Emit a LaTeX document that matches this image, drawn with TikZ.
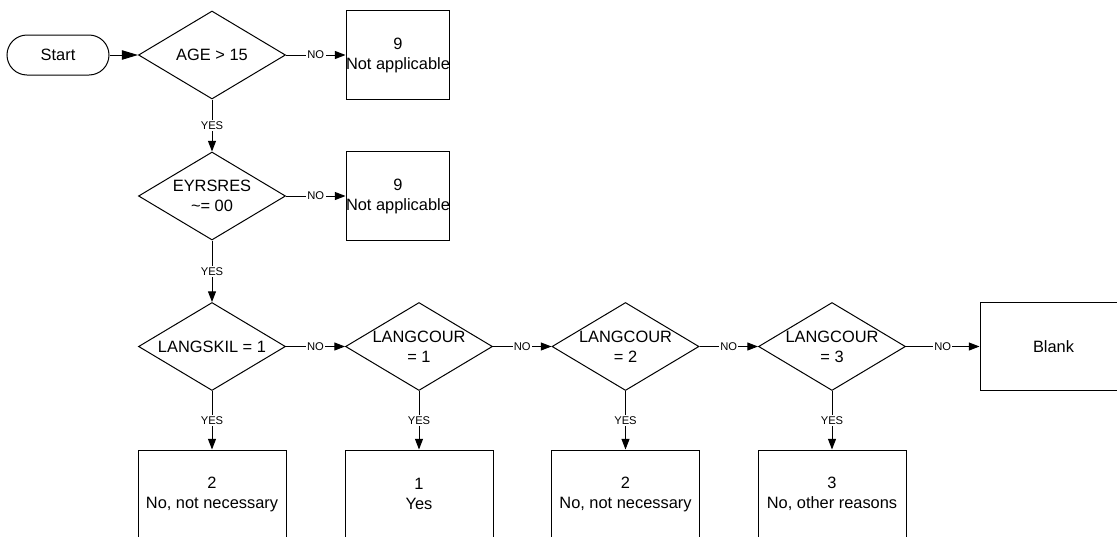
\documentclass[tikz,border=0pt]{standalone}
\usepackage{fontspec}
\setmainfont{Liberation Sans}
\usetikzlibrary{shapes.geometric,arrows.meta}

\begin{document}
\begin{tikzpicture}[
    x=0.75pt, y=-0.75pt,
    decision/.style={diamond, draw=black, line width=0.75pt, aspect=1.69,
        minimum width=110.25pt, minimum height=66pt, inner sep=0pt,
        align=center, font=\fontsize{12.3}{15}\selectfont},
    outcome/.style={rectangle, draw=black, line width=0.75pt,
        minimum width=111pt, minimum height=66pt, inner sep=0pt,
        align=center, font=\fontsize{12.3}{15}\selectfont},
    terminal/.style={rectangle, rounded corners=15pt, draw=black, line width=0.75pt,
        minimum width=76.5pt, minimum height=30pt, inner sep=0pt,
        font=\fontsize{12.3}{15}\selectfont},
    flow/.style={line width=0.75pt, -{Triangle[length=8pt, width=6pt]}},
    answer/.style={fill=white, inner sep=1pt, font=\fontsize{8.4}{10}\selectfont}
]
    \useasboundingbox (0,0) rectangle (1117,536);
    \clip (0,0) rectangle (1117,536);

    \node[terminal] (start) at (58,55) {Start};
    \node[decision] (age) at (212,55) {AGE > 15};
    \node[outcome, minimum width=72pt, minimum height=66.75pt] (na1) at (398,55) {9\\Not applicable};
    \node[decision] (eyrs) at (212,196) {EYRSRES\\\textasciitilde= 00};
    \node[outcome, minimum width=72pt, minimum height=66.75pt] (na2) at (398,196) {9\\Not applicable};

    \node[decision] (skil) at (212,346.5) {LANGSKIL = 1};
    \node[decision] (c1) at (419,346.5) {LANGCOUR\\= 1};
    \node[decision] (c2) at (625.5,346.5) {LANGCOUR\\= 2};
    \node[decision] (c3) at (832,346.5) {LANGCOUR\\= 3};
    \node[outcome, minimum width=110.25pt] (blank) at (1053.5,346.5) {Blank};

    \node[outcome] (r2a) at (212,494) {2\\No, not necessary};
    \node[outcome] (r1) at (419,494) {1\\Yes};
    \node[outcome] (r2b) at (625.5,494) {2\\No, not necessary};
    \node[outcome] (r3) at (832,494) {3\\No, other reasons};

    \draw[flow, -{Triangle[length=12pt, width=7pt]}] (start) -- (age);
    \draw[flow] (age) -- node[answer] {NO} (na1);
    \draw[flow] (age) -- node[answer] {YES} (eyrs);
    \draw[flow] (eyrs) -- node[answer] {NO} (na2);
    \draw[flow] (eyrs) -- node[answer] {YES} (skil);

    \foreach \from/\to in {skil/c1, c1/c2, c2/c3, c3/blank}
        \draw[flow] (\from) -- node[answer] {NO} (\to);
    \foreach \from/\to in {skil/r2a, c1/r1, c2/r2b, c3/r3}
        \draw[flow] (\from) -- node[answer] {YES} (\to);
\end{tikzpicture}
\end{document}
